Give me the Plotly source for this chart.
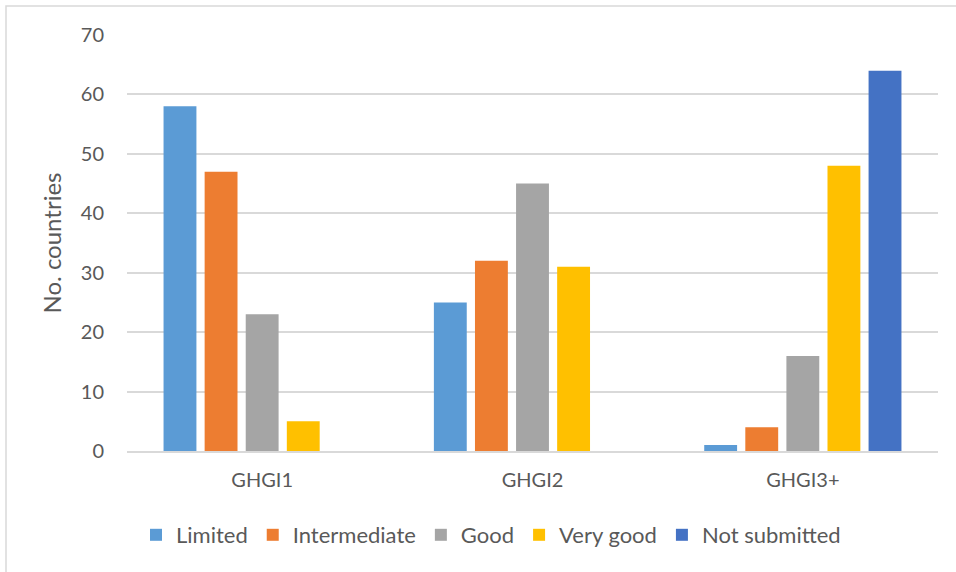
import plotly.graph_objects as go

categories = ["GHGI1", "GHGI2", "GHGI3+"]
series_names = ["Limited", "Intermediate", "Good", "Very good", "Not submitted"]
limited = [58, 25, 1]
intermediate = [47, 32, 4]
good = [23, 45, 16]
very_good = [5, 31, 48]
not_submitted = [None, None, 64]
colors = ["#5B9BD5", "#ED7D31", "#A5A5A5", "#FFC000", "#4472C4"]
y_ticks = [0, 10, 20, 30, 40, 50, 60, 70]

values = [limited, intermediate, good, very_good, not_submitted]

W, H = 956, 572
L, R, T, B = 127, 18, 35, 121
pw, ph = W - L - R, H - T - B

fig = go.Figure()
for name, vals, col in zip(series_names, values, colors):
    fig.add_trace(go.Bar(x=categories, y=vals, name=name, marker=dict(color=col, line=dict(width=0))))

font = "Lato, 'Open Sans', sans-serif"
fig.update_layout(
    width=W, height=H,
    margin=dict(l=L, r=R, t=T, b=B),
    plot_bgcolor="white", paper_bgcolor="white",
    barmode="group", bargap=0.24, bargroupgap=0.2,
    font=dict(family=font, size=20, color="#595959"),
    xaxis=dict(showgrid=False, showline=True, linecolor="#D9D9D9", linewidth=1.5,
               ticks="", ticklabelstandoff=10, tickfont=dict(size=20, color="#595959")),
    yaxis=dict(range=[0, 70], tickvals=y_ticks, showgrid=True, gridcolor="#D9D9D9", gridwidth=1.5,
               zeroline=False, showline=False, ticks="", ticklen=0, ticklabelstandoff=22,
               tickfont=dict(size=20, color="#595959"),
               title=dict(text="No. countries", font=dict(size=24, color="#595959"), standoff=12)),
    legend=dict(orientation="h", x=(491 - L) / pw, xanchor="center", y=(H - B - 535) / ph, yanchor="middle",
                font=dict(size=22, color="#595959"), itemwidth=30, traceorder="normal"),
    showlegend=True,
)

fig.add_shape(type="rect", xref="paper", yref="paper",
              x0=(6 - L) / pw, x1=(962 - L) / pw,
              y0=(H - B - 580) / ph, y1=(H - B - 6) / ph,
              line=dict(color="#D9D9D9", width=1.5), fillcolor="rgba(0,0,0,0)", layer="below")

fig.write_html("out.html")
